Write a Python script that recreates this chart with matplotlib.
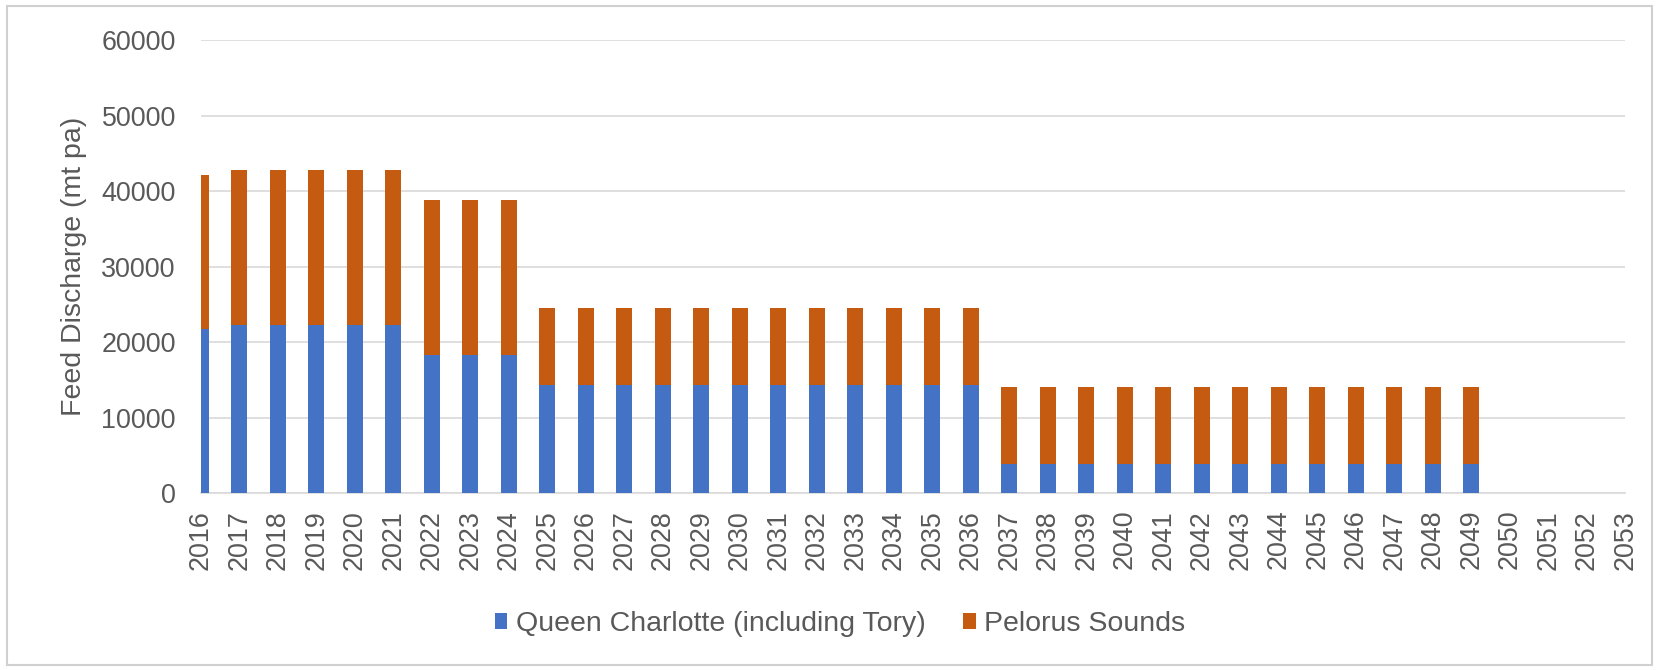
import matplotlib
matplotlib.use("Agg")
from matplotlib import pyplot as plt
from matplotlib.patches import Rectangle

years = [str(y) for y in range(2016, 2054)]

queen_charlotte = [21700, 22300, 22300, 22300, 22300, 22300,
                   18300, 18300, 18300,
                   14300, 14300, 14300, 14300, 14300, 14300,
                   14300, 14300, 14300, 14300, 14300, 14300,
                   3800, 3800, 3800, 3800, 3800, 3800, 3800,
                   3800, 3800, 3800, 3800, 3800, 3800,
                   0, 0, 0, 0]

pelorus = [20500, 20500, 20500, 20500, 20500, 20500,
           20500, 20500, 20500,
           10200, 10200, 10200, 10200, 10200, 10200,
           10200, 10200, 10200, 10200, 10200, 10200,
           10200, 10200, 10200, 10200, 10200, 10200, 10200,
           10200, 10200, 10200, 10200, 10200, 10200,
           0, 0, 0, 0]

yticks = [0, 10000, 20000, 30000, 40000, 50000, 60000]

BLUE = '#4472C4'
ORANGE = '#C55A11'
GREY_TEXT = '#595959'

plt.rcParams['font.family'] = ['Liberation Sans', 'DejaVu Sans']

fig = plt.figure(figsize=(16.6, 6.7), dpi=100)
ax = fig.add_axes([0.121, 0.264, 0.858, 0.676])

x = list(range(len(years)))
ax.bar(x, queen_charlotte, 0.41, color=BLUE, label='Queen Charlotte (including Tory)', zorder=3)
ax.bar(x, pelorus, 0.41, bottom=queen_charlotte, color=ORANGE, label='Pelorus Sounds', zorder=3)

ax.set_xlim(0, len(years) - 1)
ax.set_ylim(0, 60000)
ax.set_yticks(yticks)
ax.set_yticklabels([str(v) for v in yticks])
ax.set_xticks(x)
ax.set_xticklabels(years, rotation=90)

ax.grid(axis='y', color='#d9d9d9', linewidth=1.2, zorder=0)
for side in ['top', 'right', 'left']:
    ax.spines[side].set_visible(False)
ax.spines['bottom'].set_color('#d9d9d9')
ax.spines['bottom'].set_linewidth(1.2)
ax.tick_params(axis='both', length=0, labelsize=19.4, colors=GREY_TEXT)
ax.tick_params(axis='y', pad=18)
ax.tick_params(axis='x', pad=12)

ax.set_ylabel('Feed Discharge (mt pa)', fontsize=20.5, color=GREY_TEXT, labelpad=10)

fig.legend(loc='center', bbox_to_anchor=(0.506, 0.069), ncol=2, frameon=False,
           fontsize=20.5, labelcolor=GREY_TEXT, handlelength=0.45, handleheight=0.5,
           handletextpad=0.3, columnspacing=1.3)

fig.patches.append(Rectangle((0.004, 0.008), 0.991, 0.983, transform=fig.transFigure,
                             fill=False, edgecolor='#d0d0d0', linewidth=1.5))

fig.savefig('out.png', dpi=100)
